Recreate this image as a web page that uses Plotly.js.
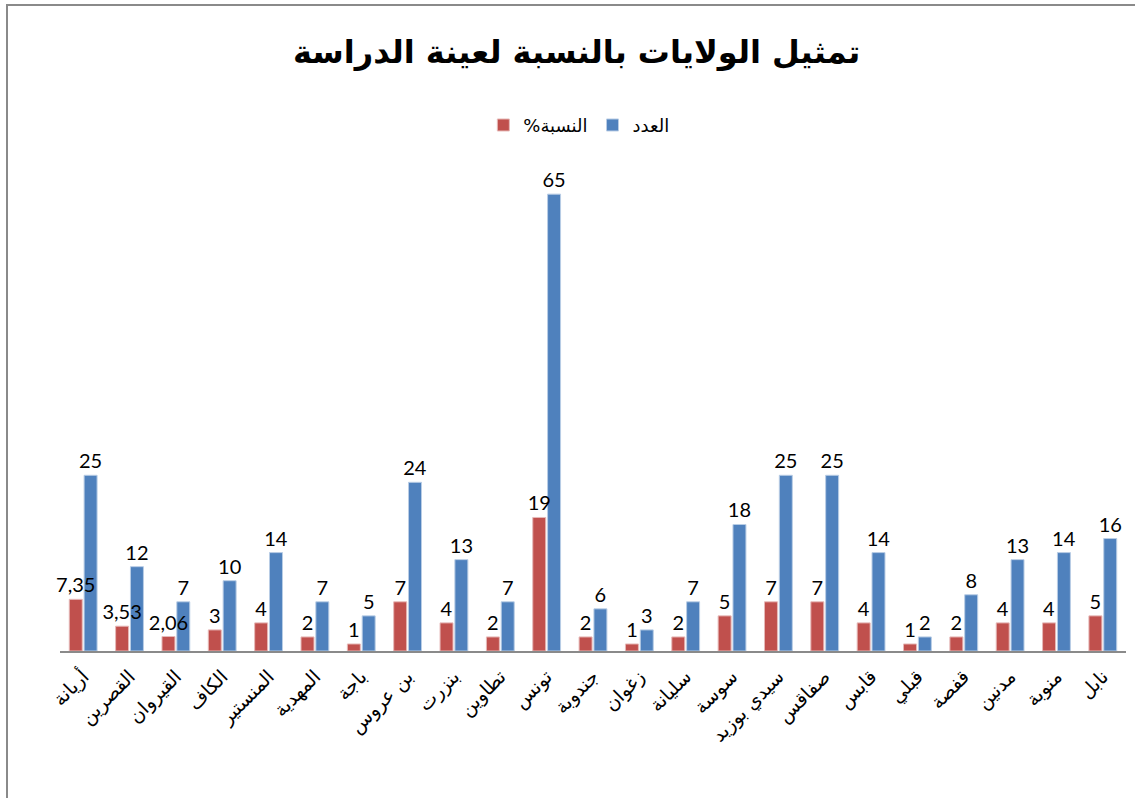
<!DOCTYPE html>
<html>
<head>
<meta charset="utf-8">
<script src="https://cdn.plot.ly/plotly-3.0.1.min.js"></script>
<style>
  html, body { margin: 0; padding: 0; background: #fff; overflow: hidden; }
  #chart { position: absolute; left: 0; top: 0; width: 1135px; height: 798px; }
  #frame { position: absolute; left: 6px; top: 4px; width: 3000px; height: 3000px;
           border-left: 2px solid #8a8a8a; border-top: 2px solid #8a8a8a; pointer-events: none; }
</style>
</head>
<body>
<div id="chart"></div>
<div id="frame"></div>
<script>
const categories = ["أريانة", "القصرين", "القيروان", "الكاف", "المنستير", "المهدية", "باجة", "بن عروس", "بنزرت", "تطاوين", "تونس", "جندوبة", "زغوان", "سليانة", "سوسة", "سيدي بوزيد", "صفاقس", "قابس", "قبلي", "قفصة", "مدنين", "منوبة", "نابل"];
const percentValues = [7.35, 3.53, 2.06, 3, 4, 2, 1, 7, 4, 2, 19, 2, 1, 2, 5, 7, 7, 4, 1, 2, 4, 4, 5];
const countValues = [25, 12, 7, 10, 14, 7, 5, 24, 13, 7, 65, 6, 3, 7, 18, 25, 25, 14, 2, 8, 13, 14, 16];
// written so that it displays as "النسبة%" (percent sign on the right) in the SVG legend
const percentName = "%النسبة";
const countName = "العدد";
const titleText = "تمثيل الولايات بالنسبة لعينة الدراسة";

const fmt = v => String(v).replace('.', ',');
const labelFont = { family: "Lato, 'DejaVu Sans', sans-serif", size: 20, color: "#000" };

// blue trace first so the red labels are drawn on top of the blue bars
const traces = [
  {
    type: "bar", name: countName, x: categories, y: countValues,
    offset: 0.02, width: 0.28, legendrank: 2,
    text: countValues.map(fmt), textposition: "outside", textfont: labelFont,
    constraintext: "none", cliponaxis: false,
    marker: { color: "#4F81BD", line: { color: "#b9cde5", width: 1 } },
    hoverinfo: "x+y"
  },
  {
    type: "bar", name: percentName, x: categories, y: percentValues,
    offset: -0.30, width: 0.28, legendrank: 1,
    text: percentValues.map(fmt), textposition: "outside", textfont: labelFont,
    constraintext: "none", cliponaxis: false,
    marker: { color: "#C0504D", line: { color: "#e6b9b8", width: 1 } },
    hoverinfo: "x+y"
  }
];

const layout = {
  width: 1135, height: 798,
  margin: { l: 60, r: 9, t: 159, b: 147 },
  paper_bgcolor: "rgba(0,0,0,0)", plot_bgcolor: "rgba(0,0,0,0)",
  separators: ",.",
  barmode: "overlay",
  title: {
    text: "<b>" + titleText + "</b>",
    font: { family: "'DejaVu Sans', Arial, sans-serif", size: 32, color: "#000" },
    x: 0.508, xref: "container", xanchor: "center",
    y: 0.935, yref: "container", yanchor: "middle"
  },
  showlegend: true,
  legend: {
    orientation: "h", xref: "container", yref: "container",
    x: 0.51, xanchor: "center", y: 0.843, yanchor: "middle",
    font: { family: "'DejaVu Sans', Arial, sans-serif", size: 18, color: "#000" },
    itemwidth: 30, traceorder: "normal"
  },
  xaxis: {
    type: "category", showline: true, linecolor: "#8a8a8a", linewidth: 2,
    ticks: "", tickangle: -45, showgrid: false, zeroline: false,
    ticklabelstandoff: 5,
    tickfont: { family: "'DejaVu Sans', Arial, sans-serif", size: 19, color: "#000" },
    automargin: false
  },
  yaxis: {
    range: [0, 70], visible: false, showgrid: false, zeroline: false, fixedrange: true
  }
};

Plotly.newPlot("chart", traces, layout, { displayModeBar: false, staticPlot: true });
</script>
</body>
</html>
